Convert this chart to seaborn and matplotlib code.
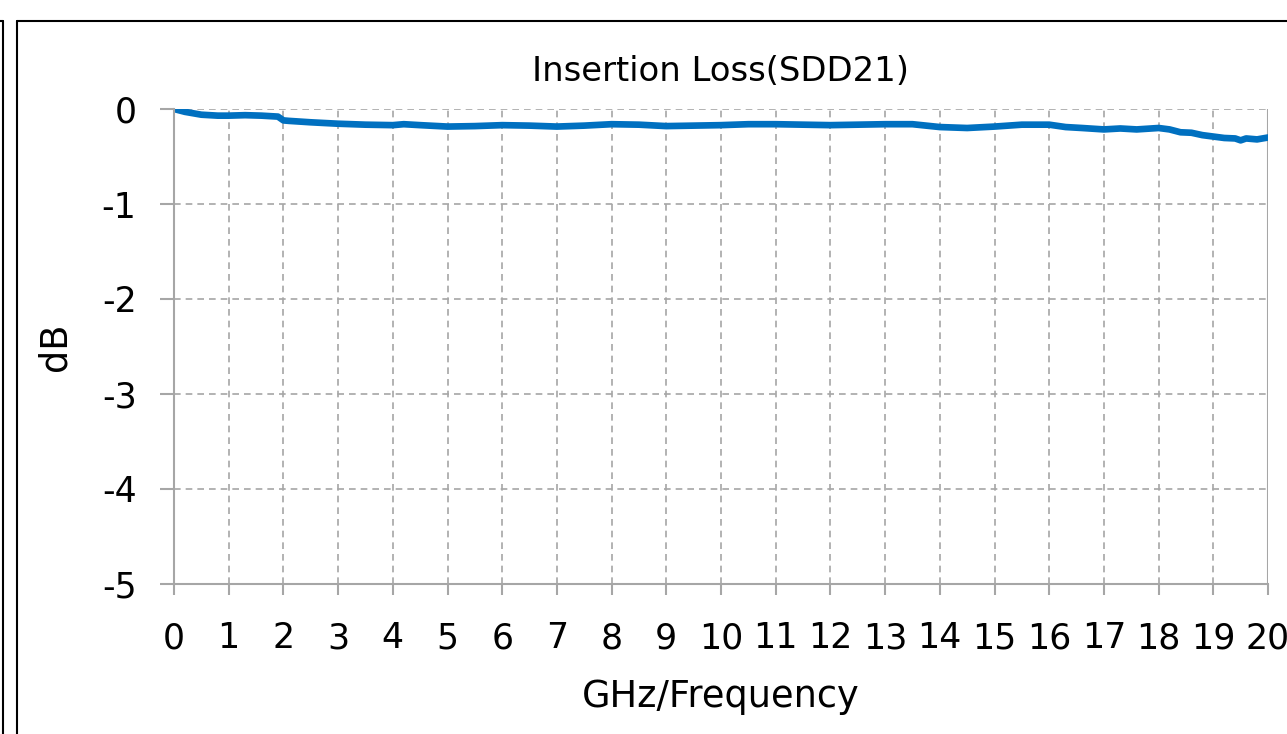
import matplotlib
matplotlib.use("Agg")
import matplotlib.pyplot as plt
from matplotlib.lines import Line2D
import seaborn as sns
import pandas as pd

freq_ghz = [0.0, 0.2, 0.5, 0.8, 1.0, 1.3, 1.6, 1.9, 2.0, 2.1, 2.5, 3.0, 3.5, 4.0, 4.2, 4.5,
            5.0, 5.5, 6.0, 6.5, 7.0, 7.5, 8.0, 8.5, 9.0, 9.5, 10.0, 10.5, 11.0, 11.5, 12.0,
            12.5, 13.0, 13.5, 14.0, 14.5, 15.0, 15.5, 16.0, 16.3, 16.6, 17.0, 17.3, 17.6,
            18.0, 18.2, 18.4, 18.6, 18.8, 19.0, 19.2, 19.4, 19.5, 19.6, 19.8, 20.0]
loss_db = [0.0, -0.03, -0.06, -0.07, -0.07, -0.065, -0.07, -0.08, -0.12, -0.125, -0.14, -0.155,
           -0.165, -0.17, -0.16, -0.17, -0.185, -0.18, -0.17, -0.175, -0.185, -0.175, -0.16,
           -0.165, -0.18, -0.175, -0.17, -0.16, -0.16, -0.165, -0.17, -0.165, -0.16, -0.16,
           -0.19, -0.2, -0.185, -0.165, -0.165, -0.19, -0.2, -0.215, -0.205, -0.215, -0.2,
           -0.215, -0.245, -0.25, -0.275, -0.29, -0.305, -0.31, -0.33, -0.31, -0.32, -0.30]

x_ticks = list(range(0, 21))
y_ticks = [0, -1, -2, -3, -4, -5]
title_text = "Insertion Loss(SDD21)"
x_label = "GHz/Frequency"
y_label = "dB"

df = pd.DataFrame({"freq": freq_ghz, "loss": loss_db})

sns.set_theme(style="white")
plt.rcParams["font.family"] = ["DejaVu Sans"]

fig = plt.figure(figsize=(12.87, 7.34), dpi=100)
ax = fig.add_axes([174 / 1287, 1 - 584 / 734, (1268 - 174) / 1287, (584 - 109) / 734])

sns.lineplot(data=df, x="freq", y="loss", ax=ax, color="#0070C0", linewidth=4.8)

ax.set_xlim(0, 20)
ax.set_ylim(-5, 0)
ax.set_xticks(x_ticks)
ax.set_yticks(y_ticks)
ax.set_xticklabels([str(t) for t in x_ticks])
ax.set_yticklabels([str(t) for t in y_ticks])

grid_c = "#a6a6a6"
ax.grid(True, color=grid_c, linestyle=(0, (4, 3)), linewidth=1.2)
for s in ["top", "right"]:
    ax.spines[s].set_visible(False)
for s in ["left", "bottom"]:
    ax.spines[s].set_color(grid_c)
    ax.spines[s].set_linewidth(1.5)
ax.axvline(20, color=grid_c, linewidth=1.5, zorder=1)

ax.tick_params(axis="x", direction="out", length=8, width=1.5, color=grid_c,
               labelsize=25, pad=19, labelcolor="black", bottom=True)
ax.tick_params(axis="y", direction="out", length=10, width=1.5, color=grid_c,
               labelsize=25, pad=17, labelcolor="black", left=True)

ax.set_title(title_text, fontsize=24.4, pad=20, color="black")
ax.set_xlabel(x_label, fontsize=26.5, labelpad=16, color="black")
ax.set_ylabel(y_label, fontsize=26.5, labelpad=20, color="black")

# outer chart frame lines
W, H = 1287, 734
fig.add_artist(Line2D([17 / W, 17 / W], [1 - 21 / H, 0], transform=fig.transFigure,
                      color="black", linewidth=1.5))
fig.add_artist(Line2D([17 / W, 1], [1 - 21 / H, 1 - 21 / H], transform=fig.transFigure,
                      color="black", linewidth=1.5))
fig.add_artist(Line2D([3 / W, 3 / W], [1 - 21 / H, 0], transform=fig.transFigure,
                      color="black", linewidth=1.5))
fig.add_artist(Line2D([0, 3 / W], [1 - 21 / H, 1 - 21 / H], transform=fig.transFigure,
                      color="black", linewidth=1.5))

fig.savefig("out.png", dpi=100)
